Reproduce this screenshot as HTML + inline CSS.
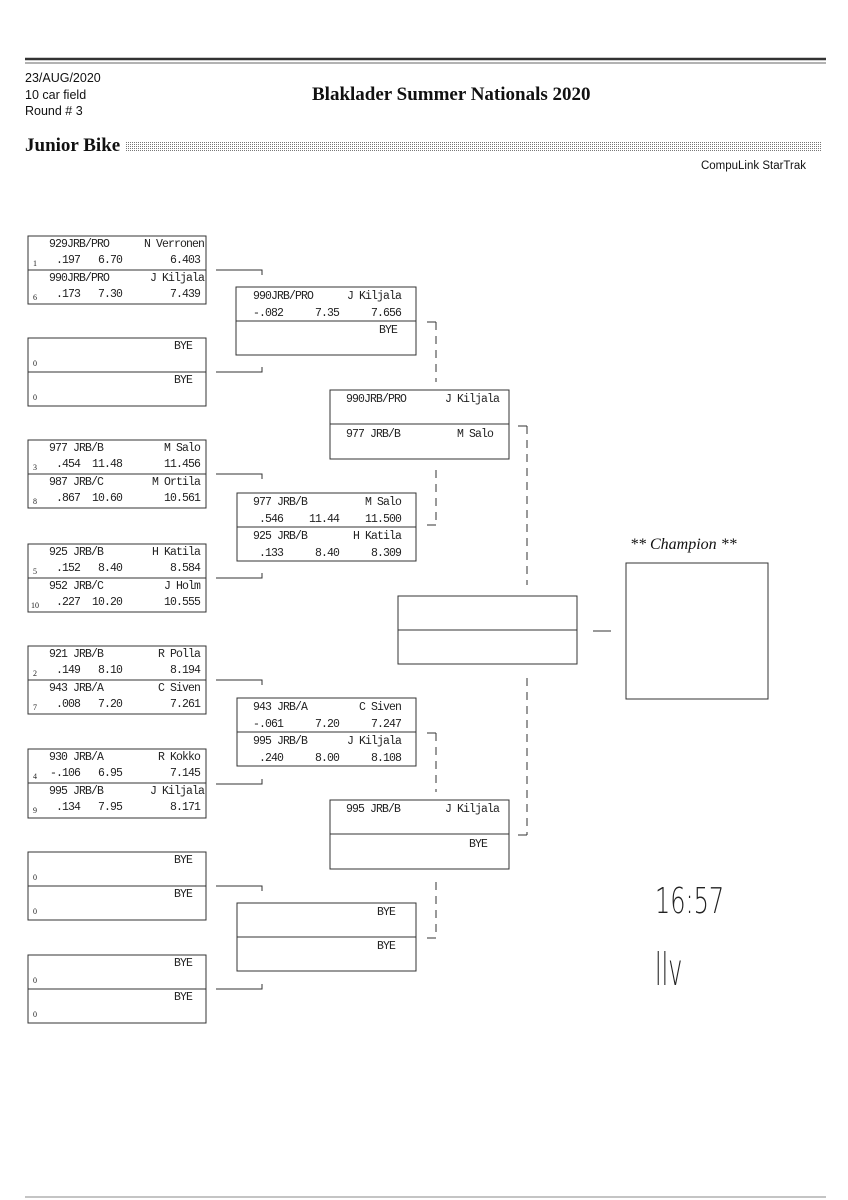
<!DOCTYPE html>
<html><head><meta charset="utf-8"><style>
html,body{margin:0;padding:0;background:#fff;}
svg{display:block;}
.m{font-family:"Liberation Mono",monospace;font-size:11.5px;letter-spacing:-0.9px;fill:#222;}
.s{font-family:"Liberation Serif",serif;font-size:8px;fill:#222;}
.h{font-family:"Liberation Sans",sans-serif;font-size:12.5px;fill:#111;}
.b{fill:none;stroke:#333;stroke-width:1;}
.d{stroke:#333;stroke-width:1;stroke-dasharray:8,6;fill:none;}
</style></head><body>
<svg width="848" height="1200" xmlns="http://www.w3.org/2000/svg">
<defs><pattern id="dots" width="2" height="2" patternUnits="userSpaceOnUse"><rect width="1" height="1" fill="#777"/></pattern></defs>
<line x1="25" y1="59" x2="826" y2="59" stroke="#333" stroke-width="2.5"/>
<line x1="25" y1="63" x2="826" y2="63" stroke="#666" stroke-width="1"/>
<line x1="25" y1="1197" x2="826" y2="1197" stroke="#888" stroke-width="1"/>
<text class="h" x="25" y="82">23/AUG/2020</text>
<text class="h" x="25" y="99">10 car field</text>
<text class="h" x="25" y="115">Round # 3</text>
<text x="312" y="100" font-family="Liberation Serif,serif" font-weight="bold" font-size="19" fill="#111">Blaklader Summer Nationals 2020</text>
<text x="25" y="151" font-family="Liberation Serif,serif" font-weight="bold" font-size="19" fill="#111">Junior Bike</text>
<rect x="126" y="141" width="696" height="10" fill="url(#dots)"/>
<text class="h" x="806" y="169" text-anchor="end" style="font-size:11.5px">CompuLink StarTrak</text>

<g>
<rect class="b" x="28" y="236" width="178" height="68"/><line class="b" x1="28" y1="270" x2="206" y2="270"/>
<text class="m" x="49" y="247">929JRB/PRO</text><text class="m" x="204" y="247" text-anchor="end">N Verronen</text>
<text class="s" x="33" y="266">1</text><text class="m" x="80" y="263" text-anchor="end">.197</text><text class="m" x="122" y="263" text-anchor="end">6.70</text><text class="m" x="200" y="263" text-anchor="end">6.403</text>
<text class="m" x="49" y="281">990JRB/PRO</text><text class="m" x="204" y="281" text-anchor="end">J Kiljala</text>
<text class="s" x="33" y="300">6</text><text class="m" x="80" y="297" text-anchor="end">.173</text><text class="m" x="122" y="297" text-anchor="end">7.30</text><text class="m" x="200" y="297" text-anchor="end">7.439</text>

<rect class="b" x="28" y="338" width="178" height="68"/><line class="b" x1="28" y1="372" x2="206" y2="372"/>
<text class="m" x="192" y="349" text-anchor="end">BYE</text><text class="s" x="33" y="366">0</text>
<text class="m" x="192" y="383" text-anchor="end">BYE</text><text class="s" x="33" y="400">0</text>

<rect class="b" x="28" y="440" width="178" height="68"/><line class="b" x1="28" y1="474" x2="206" y2="474"/>
<text class="m" x="49" y="451">977 JRB/B</text><text class="m" x="200" y="451" text-anchor="end">M Salo</text>
<text class="s" x="33" y="470">3</text><text class="m" x="80" y="467" text-anchor="end">.454</text><text class="m" x="122" y="467" text-anchor="end">11.48</text><text class="m" x="200" y="467" text-anchor="end">11.456</text>
<text class="m" x="49" y="485">987 JRB/C</text><text class="m" x="200" y="485" text-anchor="end">M Ortila</text>
<text class="s" x="33" y="504">8</text><text class="m" x="80" y="501" text-anchor="end">.867</text><text class="m" x="122" y="501" text-anchor="end">10.60</text><text class="m" x="200" y="501" text-anchor="end">10.561</text>

<rect class="b" x="28" y="544" width="178" height="68"/><line class="b" x1="28" y1="578" x2="206" y2="578"/>
<text class="m" x="49" y="555">925 JRB/B</text><text class="m" x="200" y="555" text-anchor="end">H Katila</text>
<text class="s" x="33" y="574">5</text><text class="m" x="80" y="571" text-anchor="end">.152</text><text class="m" x="122" y="571" text-anchor="end">8.40</text><text class="m" x="200" y="571" text-anchor="end">8.584</text>
<text class="m" x="49" y="589">952 JRB/C</text><text class="m" x="200" y="589" text-anchor="end">J Holm</text>
<text class="s" x="31" y="608">10</text><text class="m" x="80" y="605" text-anchor="end">.227</text><text class="m" x="122" y="605" text-anchor="end">10.20</text><text class="m" x="200" y="605" text-anchor="end">10.555</text>

<rect class="b" x="28" y="646" width="178" height="68"/><line class="b" x1="28" y1="680" x2="206" y2="680"/>
<text class="m" x="49" y="657">921 JRB/B</text><text class="m" x="200" y="657" text-anchor="end">R Polla</text>
<text class="s" x="33" y="676">2</text><text class="m" x="80" y="673" text-anchor="end">.149</text><text class="m" x="122" y="673" text-anchor="end">8.10</text><text class="m" x="200" y="673" text-anchor="end">8.194</text>
<text class="m" x="49" y="691">943 JRB/A</text><text class="m" x="200" y="691" text-anchor="end">C Siven</text>
<text class="s" x="33" y="710">7</text><text class="m" x="80" y="707" text-anchor="end">.008</text><text class="m" x="122" y="707" text-anchor="end">7.20</text><text class="m" x="200" y="707" text-anchor="end">7.261</text>

<rect class="b" x="28" y="749" width="178" height="69"/><line class="b" x1="28" y1="783" x2="206" y2="783"/>
<text class="m" x="49" y="760">930 JRB/A</text><text class="m" x="200" y="760" text-anchor="end">R Kokko</text>
<text class="s" x="33" y="779">4</text><text class="m" x="80" y="776" text-anchor="end">-.106</text><text class="m" x="122" y="776" text-anchor="end">6.95</text><text class="m" x="200" y="776" text-anchor="end">7.145</text>
<text class="m" x="49" y="794">995 JRB/B</text><text class="m" x="204" y="794" text-anchor="end">J Kiljala</text>
<text class="s" x="33" y="813">9</text><text class="m" x="80" y="810" text-anchor="end">.134</text><text class="m" x="122" y="810" text-anchor="end">7.95</text><text class="m" x="200" y="810" text-anchor="end">8.171</text>

<rect class="b" x="28" y="852" width="178" height="68"/><line class="b" x1="28" y1="886" x2="206" y2="886"/>
<text class="m" x="192" y="863" text-anchor="end">BYE</text><text class="s" x="33" y="880">0</text>
<text class="m" x="192" y="897" text-anchor="end">BYE</text><text class="s" x="33" y="914">0</text>

<rect class="b" x="28" y="955" width="178" height="68"/><line class="b" x1="28" y1="989" x2="206" y2="989"/>
<text class="m" x="192" y="966" text-anchor="end">BYE</text><text class="s" x="33" y="983">0</text>
<text class="m" x="192" y="1000" text-anchor="end">BYE</text><text class="s" x="33" y="1017">0</text>
</g>

<path class="b" d="M216 270H262V275M216 372H262V367M216 474H262V479M216 578H262V573M216 680H262V685M216 784H262V779M216 886H262V891M216 989H262V984"/>

<rect class="b" x="236" y="287" width="180" height="68"/><line class="b" x1="236" y1="321" x2="416" y2="321"/>
<text class="m" x="253" y="299">990JRB/PRO</text><text class="m" x="401" y="299" text-anchor="end">J Kiljala</text>
<text class="m" x="283" y="316" text-anchor="end">-.082</text><text class="m" x="339" y="316" text-anchor="end">7.35</text><text class="m" x="401" y="316" text-anchor="end">7.656</text>
<text class="m" x="397" y="333" text-anchor="end">BYE</text>

<rect class="b" x="237" y="493" width="179" height="68"/><line class="b" x1="237" y1="527" x2="416" y2="527"/>
<text class="m" x="253" y="505">977 JRB/B</text><text class="m" x="401" y="505" text-anchor="end">M Salo</text>
<text class="m" x="283" y="522" text-anchor="end">.546</text><text class="m" x="339" y="522" text-anchor="end">11.44</text><text class="m" x="401" y="522" text-anchor="end">11.500</text>
<text class="m" x="253" y="539">925 JRB/B</text><text class="m" x="401" y="539" text-anchor="end">H Katila</text>
<text class="m" x="283" y="556" text-anchor="end">.133</text><text class="m" x="339" y="556" text-anchor="end">8.40</text><text class="m" x="401" y="556" text-anchor="end">8.309</text>

<rect class="b" x="237" y="698" width="179" height="68"/><line class="b" x1="237" y1="732" x2="416" y2="732"/>
<text class="m" x="253" y="710">943 JRB/A</text><text class="m" x="401" y="710" text-anchor="end">C Siven</text>
<text class="m" x="283" y="727" text-anchor="end">-.061</text><text class="m" x="339" y="727" text-anchor="end">7.20</text><text class="m" x="401" y="727" text-anchor="end">7.247</text>
<text class="m" x="253" y="744">995 JRB/B</text><text class="m" x="401" y="744" text-anchor="end">J Kiljala</text>
<text class="m" x="283" y="761" text-anchor="end">.240</text><text class="m" x="339" y="761" text-anchor="end">8.00</text><text class="m" x="401" y="761" text-anchor="end">8.108</text>

<rect class="b" x="237" y="903" width="179" height="68"/><line class="b" x1="237" y1="937" x2="416" y2="937"/>
<text class="m" x="395" y="915" text-anchor="end">BYE</text>
<text class="m" x="395" y="949" text-anchor="end">BYE</text>

<path class="b" d="M427 322H436M427 525H436M427 733H436M427 938H436"/>
<path class="d" d="M436 322V382M436 470V525M436 733V792M436 882V938"/>

<rect class="b" x="330" y="390" width="179" height="69"/><line class="b" x1="330" y1="424" x2="509" y2="424"/>
<text class="m" x="346" y="402">990JRB/PRO</text><text class="m" x="499" y="402" text-anchor="end">J Kiljala</text>
<text class="m" x="346" y="437">977 JRB/B</text><text class="m" x="493" y="437" text-anchor="end">M Salo</text>

<rect class="b" x="330" y="800" width="179" height="69"/><line class="b" x1="330" y1="834" x2="509" y2="834"/>
<text class="m" x="346" y="812">995 JRB/B</text><text class="m" x="499" y="812" text-anchor="end">J Kiljala</text>
<text class="m" x="487" y="847" text-anchor="end">BYE</text>

<path class="b" d="M518 426H527M518 835H527"/>
<path class="d" d="M527 426V585M527 678V835"/>

<rect class="b" x="398" y="596" width="179" height="68"/><line class="b" x1="398" y1="630" x2="577" y2="630"/>
<path class="b" d="M593 631H611"/>

<text x="630" y="549" font-family="Liberation Serif,serif" font-style="italic" font-size="16" fill="#111">** Champion **</text>
<rect class="b" x="626" y="563" width="142" height="136"/>

<text x="655" y="913" font-family="DejaVu Sans,sans-serif" font-weight="200" font-size="30" fill="#222" transform="translate(655 913) scale(0.8 1.2) translate(-655 -913)">16:57</text>
<text x="655" y="985" font-family="DejaVu Sans,sans-serif" font-weight="200" font-size="34" fill="#222" transform="translate(655 985) scale(0.7 1.3) translate(-655 -985)">llv</text>
</svg>
</body></html>
